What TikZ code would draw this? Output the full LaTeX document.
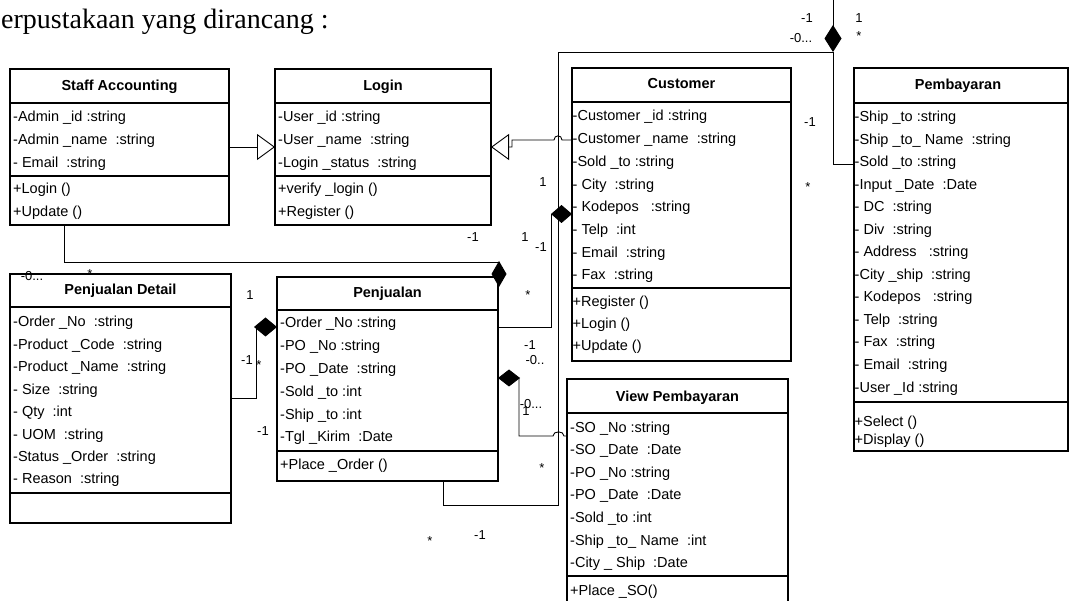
\documentclass[tikz,border=0pt]{standalone}
\usepackage{fontspec}
\setmainfont{Liberation Sans}
\newfontfamily\ttlserif{Liberation Serif}
\usetikzlibrary{arrows.meta,calc}
\newcommand\rowfnt{\fontsize{14.5}{17}\selectfont}
\newcommand\hdrfnt{\bfseries\fontsize{14.5}{17}\selectfont}
\newcommand\lblfnt{\fontsize{13}{15}\selectfont}
\newcommand\classrows[5]{\foreach \t [count=\i] in {#5} {\node[row] (#1\i) at (#2,{#3+5+(\i-1)*#4}) {\t};}}
\tikzset{
 classbox/.style={draw, line width=1.2pt, inner sep=0pt, outer sep=0pt, anchor=north west},
 sepline/.style={line width=1.2pt},
 hdr/.style={font=\hdrfnt, inner sep=0pt, anchor=base},
 row/.style={font=\rowfnt, inner sep=0pt, anchor=base west},
 lbl/.style={font=\lblfnt, inner sep=0pt},
 conn/.style={line width=0.9pt},
 gen/.style={conn, -{Triangle[open, length=18pt, width=26pt]}},
 comp/.style={conn, -{Diamond[#1]}},
}
\begin{document}
\begin{tikzpicture}[x=1pt,y=-1pt]
\useasboundingbox (0,0) rectangle (1071,601);

% title fragment
\node[font=\ttlserif\fontsize{28}{30}\selectfont, inner sep=0pt, anchor=base west] (ttl) at (1,29) {erpustakaan yang dirancang :};

% ---------- class boxes ----------
\node[classbox, minimum width=219pt, minimum height=156pt] (sa) at (10,69) {};
\node[classbox, minimum width=216pt, minimum height=156pt] (lg) at (275,69) {};
\node[classbox, minimum width=219pt, minimum height=293pt] (cu) at (572,68) {};
\node[classbox, minimum width=214pt, minimum height=383pt] (pb) at (854,68) {};
\node[classbox, minimum width=221pt, minimum height=249pt] (pd) at (10,274) {};
\node[classbox, minimum width=221pt, minimum height=204pt] (pj) at (277,277) {};
\node[classbox, minimum width=221pt, minimum height=240pt] (vp) at (567,379) {};

% compartment lines
\draw[sepline] (sa.west |- 0,103) -- (sa.east |- 0,103);
\draw[sepline] (sa.west |- 0,176) -- (sa.east |- 0,176);
\draw[sepline] (lg.west |- 0,103) -- (lg.east |- 0,103);
\draw[sepline] (lg.west |- 0,176) -- (lg.east |- 0,176);
\draw[sepline] (cu.west |- 0,102) -- (cu.east |- 0,102);
\draw[sepline] (cu.west |- 0,288) -- (cu.east |- 0,288);
\draw[sepline] (pb.west |- 0,103) -- (pb.east |- 0,103);
\draw[sepline] (pb.west |- 0,402) -- (pb.east |- 0,402);
\draw[sepline] (pd.west |- 0,307) -- (pd.east |- 0,307);
\draw[sepline] (pd.west |- 0,493) -- (pd.east |- 0,493);
\draw[sepline] (pj.west |- 0,310) -- (pj.east |- 0,310);
\draw[sepline] (pj.west |- 0,451) -- (pj.east |- 0,451);
\draw[sepline] (vp.west |- 0,413) -- (vp.east |- 0,413);
\draw[sepline] (vp.west |- 0,576) -- (vp.east |- 0,576);

% headers
\node[hdr] (sa-h) at ($(sa.north)+(0,22)$) {Staff Accounting};
\node[hdr] (lg-h) at ($(lg.north)+(0,22)$) {Login};
\node[hdr] (cu-h) at ($(cu.north)+(0,21)$) {Customer};
\node[hdr] (pb-h) at ($(pb.north)+(-3,22)$) {Pembayaran};
\node[hdr] (pd-h) at ($(pd.north)+(0,21)$) {Penjualan Detail};
\node[hdr] (pj-h) at ($(pj.north)+(0,21)$) {Penjualan};
\node[hdr] (vp-h) at ($(vp.north)+(0,23)$) {View Pembayaran};

% rows
\classrows{sa-a}{13}{117}{22.6}{{-Admin \_id :string},{-Admin \_name \ :string},{- Email \ :string}}
\classrows{sa-m}{13}{189}{23}{{+Login ()},{+Update ()}}
\classrows{lg-a}{278}{117}{22.6}{{-User \_id :string},{-User \_name \ :string},{-Login \_status \ :string}}
\classrows{lg-m}{278}{189}{23}{{+verify \_login ()},{+Register ()}}
\classrows{cu-a}{572.5}{116}{22.7}{{-Customer \_id :string},{-Customer \_name \ :string},{-Sold \_to :string},{- City \ :string},{- Kodepos \ \ :string},{- Telp \ :int},{- Email \ :string},{- Fax \ :string}}
\classrows{cu-m}{572.5}{302}{22}{{+Register ()},{+Login ()},{+Update ()}}
\classrows{pb-a}{854.5}{117}{22.5}{{-Ship \_to :string},{-Ship \_to\_ Name \ :string},{-Sold \_to :string},{-Input \_Date \ :Date},{- DC \ :string},{- Div \ :string},{- Address \ \ :string},{-City \_ship \ :string},{- Kodepos \ \ :string},{- Telp \ :string},{- Fax \ :string},{- Email \ :string},{-User \_Id :string}}
\classrows{pb-m}{854.5}{421}{18.5}{{+Select ()},{+Display ()}}
\classrows{pd-a}{13}{322}{22.4}{{-Order \_No \ :string},{-Product \_Code \ :string},{-Product \_Name \ :string},{- Size \ :string},{- Qty \ :int},{- UOM \ :string},{-Status \_Order \ :string},{- Reason \ :string}}
\classrows{pj-a}{280}{323}{22.8}{{-Order \_No :string},{-PO \_No :string},{-PO \_Date \ :string},{-Sold \_to :int},{-Ship \_to :int},{-Tgl \_Kirim \ :Date}}
\classrows{pj-m}{280}{464}{22}{{+Place \_Order ()}}
\classrows{vp-a}{570}{427}{22.6}{{-SO \_No :string},{-SO \_Date \ :Date},{-PO \_No :string},{-PO \_Date \ :Date},{-Sold \_to :int},{-Ship \_to\_ Name \ :int},{-City \_ Ship \ :Date}}
\classrows{vp-m}{570}{590}{22}{{+Place \_SO()}}

% ---------- connectors ----------
\coordinate (dm) at (833,52);
\coordinate (topfree) at (833,-4);

% generalizations
\draw[gen] (sa) -- (lg);
\draw[gen] (cu.west |- 0,140) -- (562,140) .. controls (562,134.5) and (554,134.5) .. (554,140) -- (512,140) -- (512,147) -- (lg.east);

% compositions
\draw[comp={length=26pt,width=15pt}] (sa.south -| 64,0) -- (64,262) -- (499,262) -- ($(pj.north east)+(1,10)$);
\draw[comp={length=23pt,width=19pt}] (pd.east |- 0,398) -- (256,398) -- (256,327) -- (pj.west |- 0,327);
\draw[comp={length=21pt,width=18pt}] (pj.east |- 0,327) -- (551,327) -- (551,214) -- (cu.west |- 0,214);
\draw[comp={length=22pt,width=17pt}] (vp.west |- 0,436) -- (564,436) .. controls (564,430.5) and (553,430.5) .. (553,436) -- (519,436) -- (519,378) -- (pj.east |- 0,378);
\draw[conn] (pj.south -| 443,0) -- (443,505) -- (558,505) -- (558,52) -- (dm);
\draw[conn] (pb.west |- 0,164) -- (833,164) -- (dm);
\draw[comp={length=27pt,width=17pt}] (topfree) -- (dm);

% ---------- multiplicity labels ----------
\node[lbl] (m1) at (473,237) {-1};
\node[lbl] (m2) at (543,182) {1};
\node[lbl] (m3) at (525,237) {1};
\node[lbl] (m4) at (541,247) {-1};
\node[lbl] (m5) at (528,295) {*};
\node[lbl] (m6) at (810,122) {-1};
\node[lbl] (m7) at (808,187) {*};
\node[lbl] (m8) at (807,18) {-1};
\node[lbl] (m9) at (801,38) {-0...};
\node[lbl] (m10) at (859,18) {1};
\node[lbl] (m11) at (859,36) {*};
\node[lbl] (m12) at (32,276) {-0...};
\node[lbl] (m13) at (90,274) {*};
\node[lbl] (m14) at (250,295) {1};
\node[lbl] (m15) at (247,360) {-1};
\node[lbl] (m16) at (259,365) {*};
\node[lbl] (m17) at (263,431) {-1};
\node[lbl] (m18) at (530,345) {-1};
\node[lbl] (m19) at (535,360) {-0..};
\node[lbl] (m20) at (531,404) {-0...};
\node[lbl] (m21) at (526,411) {1};
\node[lbl] (m22) at (542,468) {*};
\node[lbl] (m23) at (430,541) {*};
\node[lbl] (m24) at (480,535) {-1};
\end{tikzpicture}
\end{document}
